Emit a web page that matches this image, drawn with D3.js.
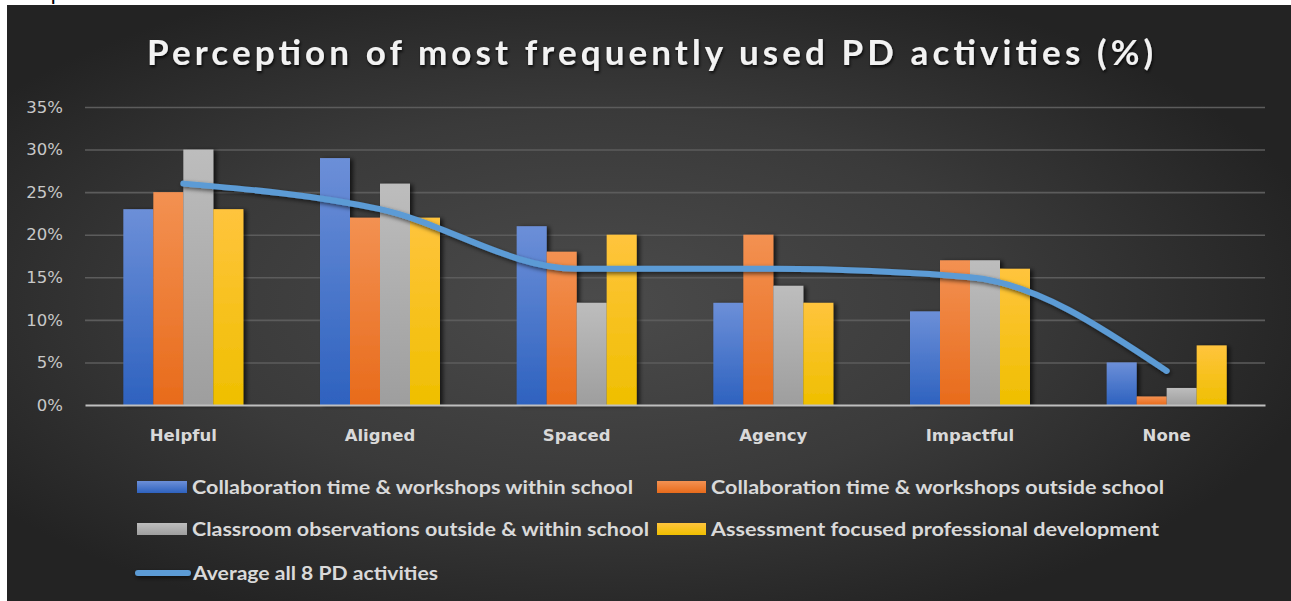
<!DOCTYPE html>
<html>
<head>
<meta charset="utf-8">
<script src="https://cdn.jsdelivr.net/npm/d3@7"></script>
<style>
  html, body { margin: 0; padding: 0; background: #ffffff; }
  svg { display: block; }
</style>
</head>
<body>
<svg id="chart" width="1291" height="601"></svg>
<script>
// ---- data ----
const categories = ["Helpful", "Aligned", "Spaced", "Agency", "Impactful", "None"];
const seriesNames = [
  "Collaboration time & workshops within school",
  "Collaboration time & workshops outside school",
  "Classroom observations outside & within school",
  "Assessment focused professional development"
];
const withinSchool  = [23, 29, 21, 12, 11, 5];
const outsideSchool = [25, 22, 18, 20, 17, 1];
const observations  = [30, 26, 12, 14, 17, 2];
const assessment    = [23, 22, 20, 12, 16, 7];
const averageAll    = [26, 23, 16, 16, 15, 4];
const averageName   = "Average all 8 PD activities";
const yTicks = [0, 5, 10, 15, 20, 25, 30, 35];
const titleText = "Perception of most frequently used PD activities (%)";
const captionText = "Graph and table 4.3";

const seriesValues = [withinSchool, outsideSchool, observations, assessment];
const palette = [
  { top: "#6C8FD8", bottom: "#2E62BF" },
  { top: "#F39152", bottom: "#E86B1B" },
  { top: "#BDBDBD", bottom: "#9E9E9E" },
  { top: "#FFC43D", bottom: "#EFBF00" }
];
const lineColor = "#5B9BD5";

const svg = d3.select("#chart");
const W = 1291, H = 601;
const defs = svg.append("defs");

// background radial gradient of the chart panel
const bg = defs.append("radialGradient").attr("id", "bgGrad")
  .attr("cx", "46%").attr("cy", "50%").attr("r", "58%");
bg.append("stop").attr("offset", "0%").attr("stop-color", "#4b4b4b");
bg.append("stop").attr("offset", "55%").attr("stop-color", "#3a3a3a");
bg.append("stop").attr("offset", "100%").attr("stop-color", "#232323");

palette.forEach((p, i) => {
  const g = defs.append("linearGradient").attr("id", "barGrad" + i)
    .attr("x1", 0).attr("y1", 0).attr("x2", 0).attr("y2", 1);
  g.append("stop").attr("offset", "0%").attr("stop-color", p.top);
  g.append("stop").attr("offset", "100%").attr("stop-color", p.bottom);
});

const shadow = defs.append("filter").attr("id", "barShadow")
  .attr("filterUnits", "userSpaceOnUse")
  .attr("x", 0).attr("y", 0).attr("width", W).attr("height", H);
shadow.append("feDropShadow").attr("dx", 3).attr("dy", 1).attr("stdDeviation", 2)
  .attr("flood-color", "#000").attr("flood-opacity", 0.65);

const lineShadow = defs.append("filter").attr("id", "lineShadow")
  .attr("filterUnits", "userSpaceOnUse")
  .attr("x", 0).attr("y", 0).attr("width", W).attr("height", H);
lineShadow.append("feDropShadow").attr("dx", 1).attr("dy", 2).attr("stdDeviation", 2)
  .attr("flood-color", "#000").attr("flood-opacity", 0.6);

const textShadow = defs.append("filter").attr("id", "textShadow")
  .attr("filterUnits", "userSpaceOnUse")
  .attr("x", 0).attr("y", 0).attr("width", W).attr("height", 120);
textShadow.append("feDropShadow").attr("dx", 1).attr("dy", 2).attr("stdDeviation", 1.5)
  .attr("flood-color", "#000").attr("flood-opacity", 0.8);

// caption above the panel (mostly hidden by it)
svg.append("text")
  .attr("x", 14).attr("y", -1)
  .attr("font-family", "Liberation Sans, Arial, sans-serif")
  .attr("font-size", 22).attr("fill", "#000")
  .text(captionText);

// chart panel
svg.append("rect").attr("x", 7).attr("y", 5).attr("width", W - 7).attr("height", H - 5)
  .attr("fill", "url(#bgGrad)");

// title
svg.append("text")
  .attr("x", 650).attr("y", 65)
  .attr("text-anchor", "middle")
  .attr("font-family", "Lato, 'Open Sans', sans-serif")
  .attr("font-weight", 700)
  .attr("font-size", 35)
  .attr("fill", "#F2F2F2")
  .attr("textLength", 1006).attr("lengthAdjust", "spacing")
  .attr("filter", "url(#textShadow)")
  .text(titleText);

// scales
const plot = { left: 85, right: 1265, top: 107, bottom: 405 };
const y = d3.scaleLinear().domain([0, 35]).range([plot.bottom, plot.top]);
const x0 = d3.scaleBand().domain(categories).range([plot.left, plot.right]).padding(0);
const groupWidth = 120;
const x1 = d3.scaleBand().domain(d3.range(seriesNames.length)).range([0, groupWidth]).padding(0);
const groupStart = c => x0(c) + (x0.bandwidth() - groupWidth) / 2;

// gridlines and value axis
const yAxis = d3.axisLeft(y).tickValues(yTicks)
  .tickSize(-(plot.right - plot.left)).tickFormat(d => d + "%").tickPadding(22);
const gAxis = svg.append("g").attr("transform", `translate(${plot.left},0)`).call(yAxis);
gAxis.select(".domain").remove();
gAxis.selectAll(".tick line")
  .attr("stroke", "#5c5c5c").attr("stroke-width", 1.6)
  .filter(d => d === 0).remove();
gAxis.selectAll(".tick text")
  .attr("fill", "#C8C8C8")
  .attr("font-family", "'DejaVu Sans', sans-serif")
  .attr("font-size", 16.5);

// bars
const barsG = svg.append("g").attr("filter", "url(#barShadow)");
seriesValues.forEach((vals, si) => {
  barsG.append("g")
    .selectAll("rect")
    .data(categories.map((c, ci) => ({ c, v: vals[ci] })))
    .join("rect")
    .attr("x", d => groupStart(d.c) + x1(si))
    .attr("width", x1.bandwidth())
    .attr("y", d => y(d.v))
    .attr("height", d => y(0) - y(d.v))
    .attr("fill", `url(#barGrad${si})`);
});

// category axis
const xAxis = d3.axisBottom(x0).tickSize(0).tickPadding(24);
const gx = svg.append("g").attr("transform", `translate(0,${plot.bottom})`).call(xAxis);
gx.select(".domain").attr("stroke", "#BFBFBF").attr("stroke-width", 2.2);
gx.selectAll(".tick text")
  .attr("fill", "#D9D9D9")
  .attr("font-family", "'DejaVu Sans', sans-serif")
  .attr("font-weight", 700)
  .attr("font-size", 16.5);

// average line
const line = d3.line()
  .x((d, i) => x0(categories[i]) + x0.bandwidth() / 2)
  .y(d => y(d))
  .curve(d3.curveMonotoneX);
svg.append("path")
  .datum(averageAll)
  .attr("d", line)
  .attr("fill", "none")
  .attr("stroke", lineColor)
  .attr("stroke-width", 6)
  .attr("stroke-linecap", "round")
  .attr("stroke-linejoin", "round")
  .attr("filter", "url(#lineShadow)");

// legend
const legendFont = "Lato, 'Open Sans', sans-serif";
const legendItems = [
  { i: 0, sx: 137, sw: 50, tx: 192, tl: 441, y: 487 },
  { i: 1, sx: 657, sw: 49, tx: 711, tl: 453, y: 487 },
  { i: 2, sx: 137, sw: 50, tx: 192, tl: 457, y: 529 },
  { i: 3, sx: 657, sw: 49, tx: 711, tl: 448, y: 529 }
];
const lg = svg.append("g");
legendItems.forEach(it => {
  lg.append("rect").attr("x", it.sx).attr("y", it.y - 6).attr("width", it.sw).attr("height", 12)
    .attr("fill", `url(#barGrad${it.i})`);
  lg.append("text").attr("x", it.tx).attr("y", it.y).attr("dy", "0.35em")
    .attr("font-family", legendFont).attr("font-weight", 700).attr("font-size", 19)
    .attr("fill", "#D9D9D9")
    .attr("textLength", it.tl).attr("lengthAdjust", "spacingAndGlyphs")
    .text(seriesNames[it.i]);
});
lg.append("line").attr("x1", 138).attr("x2", 188).attr("y1", 573).attr("y2", 573)
  .attr("stroke", lineColor).attr("stroke-width", 6).attr("stroke-linecap", "round")
  .attr("filter", "url(#lineShadow)");
lg.append("text").attr("x", 193).attr("y", 573).attr("dy", "0.35em")
  .attr("font-family", legendFont).attr("font-weight", 700).attr("font-size", 19)
  .attr("fill", "#D9D9D9")
  .attr("textLength", 245).attr("lengthAdjust", "spacingAndGlyphs")
  .text(averageName);
</script>
</body>
</html>
